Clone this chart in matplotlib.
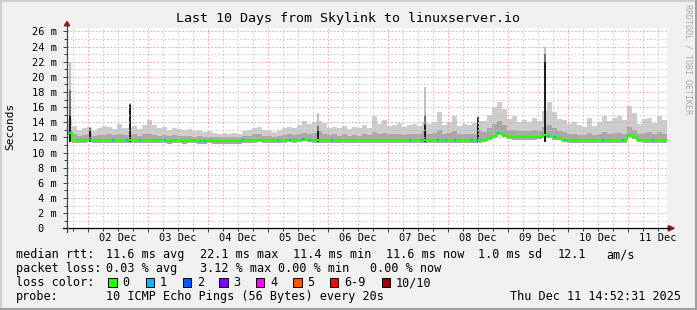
import numpy as np
import matplotlib.pyplot as plt
from matplotlib.lines import Line2D
from matplotlib.patches import Polygon, Rectangle

# samples: one every 2 hours, x in days since 01 Dec 00:00
t_start = 0.65
t_step = 1 / 12.

# median rtt (ms)
med = [12.6, 11.6, 11.6, 11.6, 11.7, 11.6, 11.6, 11.6, 11.6, 11.6,
       11.6, 11.6, 11.6, 11.6, 11.6, 11.6, 11.6, 11.6, 11.6, 11.6,
       11.5, 11.6, 11.6, 11.5, 11.6, 11.6, 11.5, 11.5, 11.6, 11.5,
       11.5, 11.5, 11.5, 11.5, 11.5, 11.6, 11.6, 11.6, 11.7, 11.6,
       11.6, 11.6, 11.6, 11.6, 11.7, 11.6, 11.7, 11.8, 11.7, 11.6,
       11.6, 11.6, 11.6, 11.6, 11.6, 11.6, 11.6, 11.6, 11.6, 11.6,
       11.6, 11.6, 11.6, 11.6, 11.6, 11.6, 11.6, 11.6, 11.6, 11.6,
       11.6, 11.6, 11.6, 11.6, 11.6, 11.6, 11.6, 11.6, 11.6, 11.6,
       11.6, 11.6, 11.6, 11.7, 11.9, 12.2, 12.6, 12.3, 12.1, 12.0,
       12.0, 12.0, 12.0, 12.0, 12.1, 12.3, 12.2, 12.0, 11.9, 11.7,
       11.6, 11.6, 11.6, 11.6, 11.6, 11.6, 11.6, 11.6, 11.6, 11.6,
       11.6, 11.6, 12.3, 12.1, 11.7, 11.6, 11.6, 11.6, 11.6, 11.6]

# top of the light smoke (ms)
hi = [14.5, 13.5, 13.0, 13.2, 13.4, 12.9, 13.3, 13.5, 13.4, 13.1,
      13.8, 13.2, 13.3, 13.5, 13.1, 13.6, 14.3, 13.6, 13.2, 13.4,
      13.0, 13.3, 13.1, 13.0, 13.1, 12.8, 13.0, 12.7, 12.9, 12.6,
      12.5, 12.6, 12.4, 12.6, 12.5, 12.9, 13.0, 13.3, 13.4, 13.0,
      12.9, 12.7, 13.0, 13.2, 13.4, 13.3, 13.6, 14.2, 13.8, 14.0,
      14.2, 13.9, 13.3, 13.4, 13.2, 13.5, 13.1, 13.4, 13.2, 13.6,
      13.3, 14.8, 13.8, 14.3, 13.5, 13.7, 13.9, 13.4, 13.6, 13.8,
      13.5, 14.0, 13.8, 14.0, 15.4, 13.6, 14.0, 14.8, 13.5, 13.8,
      13.6, 13.9, 14.2, 14.2, 15.0, 16.0, 16.7, 15.8, 14.5, 14.8,
      14.0, 14.3, 14.0, 14.6, 14.2, 15.5, 16.7, 15.3, 14.5, 14.3,
      13.8, 14.0, 13.6, 13.4, 14.6, 13.5, 14.0, 14.8, 14.2, 14.6,
      14.8, 14.3, 16.1, 15.2, 13.8, 14.4, 14.6, 13.9, 14.9, 14.3]

# top of the darker smoke (ms)
mid = [13.0, 12.4, 12.2, 12.3, 12.4, 12.2, 12.3, 12.3, 12.4, 12.3,
       12.5, 12.3, 12.3, 12.4, 12.2, 12.4, 12.5, 12.3, 12.2, 12.3,
       12.2, 12.3, 12.2, 12.2, 12.2, 12.1, 12.2, 12.1, 12.1, 12.0,
       12.0, 12.1, 12.0, 12.1, 12.0, 12.2, 12.2, 12.4, 12.4, 12.2,
       12.2, 12.1, 12.2, 12.3, 12.4, 12.3, 12.4, 12.6, 12.5, 12.6,
       12.8, 12.5, 12.3, 12.4, 12.2, 12.4, 12.2, 12.3, 12.2, 12.4,
       12.3, 12.7, 12.5, 12.6, 12.4, 12.5, 12.5, 12.3, 12.4, 12.5,
       12.4, 12.9, 12.5, 12.6, 13.0, 12.4, 12.6, 12.8, 12.4, 12.5,
       12.4, 12.5, 12.8, 12.7, 13.2, 13.8, 14.2, 13.6, 13.0, 13.0,
       12.8, 12.9, 12.8, 13.0, 12.9, 13.4, 13.6, 13.2, 12.9, 12.7,
       12.4, 12.5, 12.3, 12.3, 12.6, 12.3, 12.5, 12.7, 12.5, 12.6,
       12.6, 12.5, 13.4, 13.0, 12.5, 12.6, 12.7, 12.4, 12.7, 12.5]

# narrow spikes: time, light top, dark top, black top
spike_t = [0.70, 1.03, 1.70, 4.83, 6.62, 7.50, 8.62]
spike_light = [22.0, 13.4, 16.5, 15.2, 18.7, 14.8, 24.0]
spike_dark = [18.3, 13.2, 16.4, 13.5, 15.0, 14.7, 23.0]
spike_black = [14.8, 13.0, 16.3, 12.9, 13.7, 14.6, 22.0]

# times where one ping of ten was lost
loss1_t = [0.70, 1.03, 1.42, 1.65, 1.87, 2.28, 2.95, 3.58, 4.17, 4.37,
           4.58, 4.70, 5.07, 6.37, 6.57, 6.83, 6.97, 7.12, 7.40, 7.50,
           7.83, 8.67, 8.78, 8.95, 9.58, 9.92, 10.42]

day_labels = ['02 Dec', '03 Dec', '04 Dec', '05 Dec', '06 Dec',
              '07 Dec', '08 Dec', '09 Dec', '10 Dec', '11 Dec']
loss_names = ['0', '1', '2', '3', '4', '5', '6-9', '10/10']
loss_colors = ['#26ff00', '#00b8ff', '#0059ff', '#7e00ff', '#ff00ff',
               '#ff5500', '#ff0000', '#a00000']

W, H = 697, 310
mono = 'DejaVu Sans Mono'


def fx(x):
    return x / W


def fy(y):
    return 1 - y / H


fig = plt.figure(figsize=(W / 100, H / 100), dpi=100, facecolor='#f0f0f0')
ax = fig.add_axes([fx(67), fy(228.3), 600 / W, 200.6 / H])
ax.set_facecolor('white')
ax.set_xlim(0.65, 10.65)
ax.set_ylim(0, 26.5)

t = t_start + t_step * np.arange(len(med))
med = np.array(med)
lo = med - 0.3

# smoke
ax.bar(t, np.array(hi) - lo, bottom=lo, width=t_step, align='edge',
       color='#cdcdcd', linewidth=0, zorder=1)
ax.bar(t, np.array(mid) - lo, bottom=lo, width=t_step, align='edge',
       color='#a8a8a8', linewidth=0, zorder=1)
sw = 1.6 / 60
sb = 11.4
ax.bar(spike_t, np.array(spike_light) - sb, bottom=sb, width=sw,
       color='#c0c0c0', linewidth=0, zorder=2)
ax.bar(spike_t, np.array(spike_dark) - sb, bottom=sb, width=sw,
       color='#707070', linewidth=0, zorder=2)
ax.bar(spike_t, np.array(spike_black) - sb, bottom=sb, width=sw,
       color='#1e1e1e', linewidth=0, zorder=2)

# median line
ax.step(np.append(t, t[-1] + t_step), np.append(med, med[-1]), where='post',
        color=loss_colors[0], lw=1.6, zorder=3)
for ts in loss1_t:
    i = int((ts - t_start) // t_step)
    ax.plot([ts - 0.016, ts + 0.016], [med[i], med[i]], color=loss_colors[1],
            lw=1.6, solid_capstyle='butt', zorder=4)

# grid
ax.set_xticks(np.arange(1, 11))
ax.set_xticks(np.arange(0.75, 10.65, 0.25), minor=True)
ax.set_yticks(range(0, 27, 2))
ax.set_yticks(range(1, 27, 2), minor=True)
ax.set_axisbelow(False)
ax.grid(which='minor', color='#c4c4c4', ls=(0, (1.4, 2.2)), lw=0.72)
ax.grid(which='major', color='#f09a9a', ls=(0, (1.4, 2.2)), lw=0.72)
for s in ax.spines.values():
    s.set_visible(False)
ax.tick_params(axis='x', which='both', labelbottom=False, color='#2c4d43', width=0.72)
ax.tick_params(axis='x', which='major', length=3)
ax.tick_params(axis='x', which='minor', length=2)
ax.tick_params(axis='y', which='both', color='#2c4d43', width=0.72, pad=4.5)
ax.tick_params(axis='y', which='major', length=3)
ax.tick_params(axis='y', which='minor', length=2)
ax.set_yticklabels(['%d m' % v if v else '0  ' for v in range(0, 27, 2)],
                   family=mono, fontsize=7.5)
for k, lab in enumerate(day_labels):
    ax.text(k + 1.5, -0.05, lab, transform=ax.get_xaxis_transform(),
            ha='center', va='center', family=mono, fontsize=7.5)

# axes with arrows
fig.add_artist(Line2D([fx(62.5), fx(669)], [fy(228.3)] * 2, color='#000000', lw=0.9))
fig.add_artist(Line2D([fx(67)] * 2, [fy(231.5), fy(25)], color='#2c4d43', lw=0.9))
fig.add_artist(Polygon([(fx(64.3), fy(25.8)), (fx(69.7), fy(25.8)), (fx(67), fy(21.5))],
                       closed=True, color='#7f1f1f', transform=fig.transFigure))
fig.add_artist(Polygon([(fx(668.3), fy(225.6)), (fx(668.3), fy(231)), (fx(674.2), fy(228.3))],
                       closed=True, color='#7f1f1f', transform=fig.transFigure))

# frame shading
fig.add_artist(Rectangle((0, fy(2)), 1, 2 / H, color='#cfcfcf', transform=fig.transFigure, lw=0))
fig.add_artist(Rectangle((0, 0), 2 / W, 1, color='#cfcfcf', transform=fig.transFigure, lw=0))
fig.add_artist(Rectangle((0, 0), 1, 2.5 / H, color='#9e9e9e', transform=fig.transFigure, lw=0))
fig.add_artist(Rectangle((fx(695), 0), 2 / W, 1, color='#9e9e9e', transform=fig.transFigure, lw=0))

# titles
fig.text(fx(347.5), fy(18.5), 'Last 10 Days from Skylink to linuxserver.io',
         ha='center', va='center', family=mono, fontsize=9.6)
fig.text(fx(10.5), fy(126), 'Seconds', rotation=90, ha='center', va='center',
         family=mono, fontsize=8)
fig.text(fx(688), fy(4.5), 'RRDTOOL / TOBI OETIKER', rotation=270, ha='center',
         va='top', family=mono, fontsize=6, color='#a8a8a8')

# legend
fs = 8.5


def lt(x, y, s, **kw):
    fig.text(fx(x), fy(y), s, ha='left', va='center', family=mono, fontsize=fs, **kw)


r1, r2, r3, r4 = 254.5, 268.5, 282.5, 296.5
lt(15.5, r1, 'median rtt:')
for x, s in [(106.5, '11.6 ms avg'), (199.5, '22.1 ms max'), (293, '11.4 ms min'),
             (386, '11.6 ms now'), (478.5, '1.0 ms sd'), (557.5, '12.1'), (606, 'am/s')]:
    lt(x, r1, s)
lt(15.5, r2, 'packet loss:')
for x, s in [(106.5, '0.03 % avg'), (200.5, '3.12 % max'), (278.5, '0.00 % min'),
             (369.5, '0.00 % now')]:
    lt(x, r2, s)
lt(15.5, r3, 'loss color:')
box_x = [108.3, 145.7, 182.7, 219.3, 256, 293.3, 330, 381.7]
for bx, name, c in zip(box_x, loss_names, loss_colors):
    fig.add_artist(Rectangle((fx(bx), fy(286.7)), 8.4 / W, 8.4 / H, facecolor=c,
                             edgecolor='black', lw=0.7, transform=fig.transFigure))
    lt(bx + 14.3, r3, name)
lt(15.5, r4, 'probe:')
lt(106.5, r4, '10 ICMP Echo Pings (56 Bytes) every 20s')
fig.text(fx(681), fy(r4), 'Thu Dec 11 14:52:31 2025', ha='right', va='center',
         family=mono, fontsize=fs)

fig.savefig('out.png', dpi=100, facecolor=fig.get_facecolor())
